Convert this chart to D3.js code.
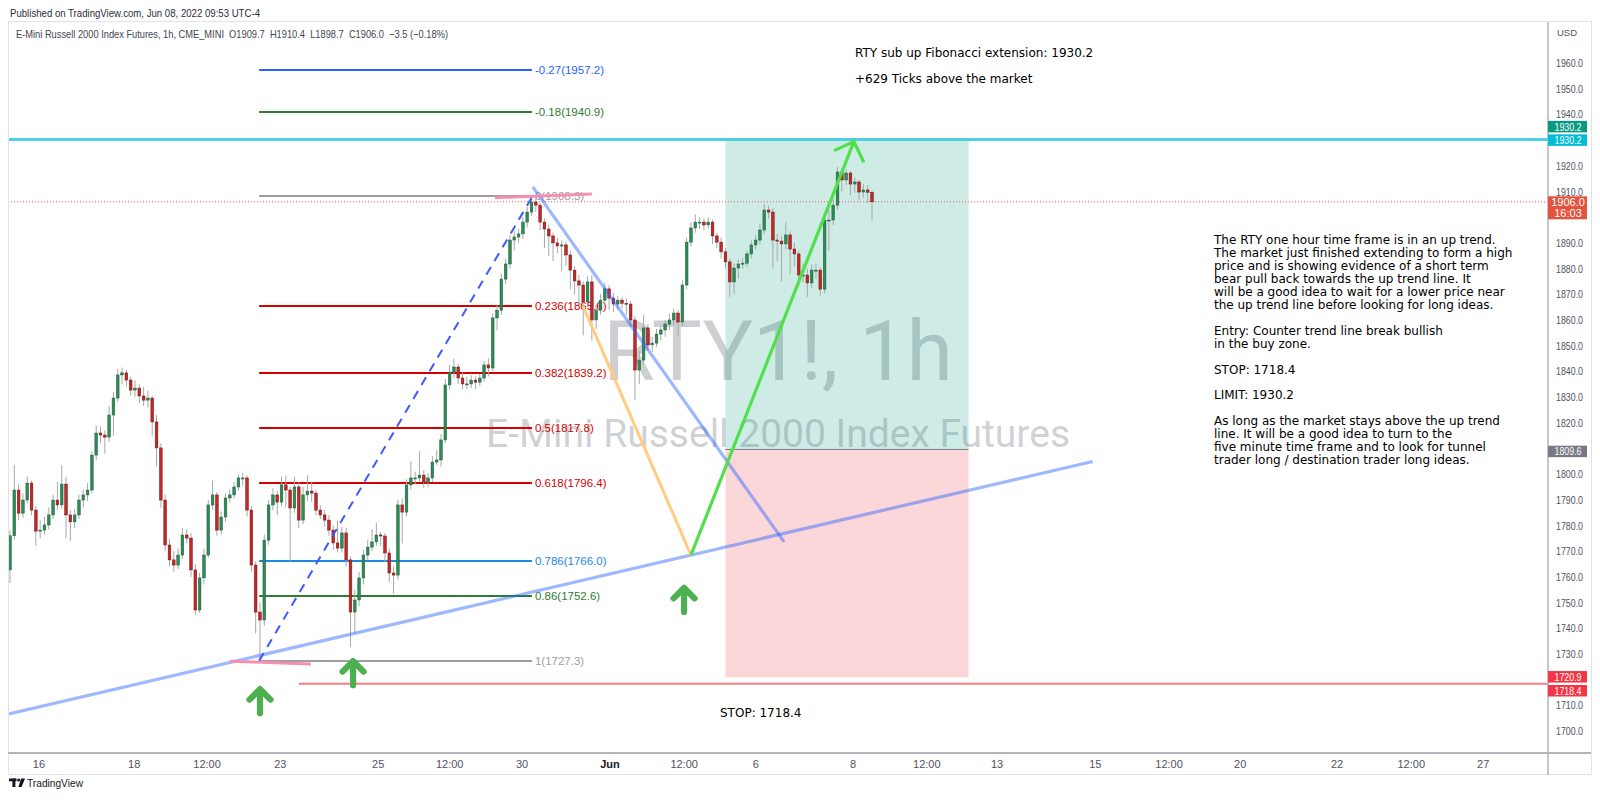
<!DOCTYPE html>
<html><head><meta charset="utf-8">
<script src="https://cdn.jsdelivr.net/npm/d3@7"></script>
<style>body{margin:0;background:#fff;}svg{display:block;}</style>
</head><body>
<svg id="c" width="1600" height="804"></svg>
<script>
// ---------------- DATA ----------------
const opens = [
1762.7,1776.0,1793.8,1784.8,1789.9,1796.5,1786.0,1777.8,1778.2,1780.2,
1784.1,1789.9,1788.0,1796.1,1784.1,1781.4,1784.1,1789.9,1791.9,1793.8,
1807.4,1816.0,1815.2,1814.4,1823.0,1829.6,1838.6,1839.4,1836.6,1832.7,
1833.5,1830.4,1828.8,1829.6,1820.3,1810.2,1789.9,1772.4,1766.6,1764.6,
1768.5,1776.3,1775.1,1762.7,1747.1,1759.6,1768.5,1788.0,1791.9,1778.2,
1783.3,1790.7,1791.9,1795.0,1798.5,1798.5,1786.0,1764.6,1746.3,1743.2,
1774.3,1788.0,1791.9,1789.1,1795.8,1793.8,1786.8,1795.0,1782.1,1791.9,
1793.4,1792.6,1786.0,1784.1,1782.1,1778.2,1773.2,1771.2,1777.1,1766.6,
1746.3,1751.0,1759.6,1768.5,1771.6,1773.6,1776.3,1775.9,1769.3,1761.5,
1760.7,1788.0,1785.2,1795.8,1798.5,1798.5,1799.6,1796.9,1798.5,1804.7,
1805.5,1813.3,1834.7,1839.7,1841.7,1837.4,1835.1,1835.1,1836.6,1835.8,
1837.4,1842.5,1841.3,1860.8,1863.8,1875.9,1881.8,1891.1,1892.3,1893.5,
1898.1,1902.0,1905.9,1904.7,1898.1,1895.4,1892.7,1890.0,1888.8,1889.2,
1885.3,1879.4,1875.2,1873.6,1867.0,1874.8,1860.0,1863.8,1867.7,1872.1,
1868.5,1866.2,1867.7,1866.5,1866.2,1860.0,1840.5,1844.4,1856.9,1850.3,
1851.0,1854.5,1856.1,1858.4,1860.0,1862.7,1859.2,1873.6,1890.3,1895.8,
1898.1,1898.1,1897.0,1898.1,1892.7,1890.3,1886.5,1882.6,1874.8,1880.2,
1881.8,1882.1,1885.7,1889.2,1891.1,1895.0,1902.8,1902.0,1891.1,1890.7,
1889.6,1893.1,1887.6,1885.7,1877.5,1877.5,1874.4,1879.4,1879.4,1872.0,
1898.9,1898.9,1904.7,1917.6,1914.5,1917.2,1912.9,1913.7,1909.8,1910.6,
1909.7];
const highs = [
1778.0,1803.5,1796.0,1792.5,1799.0,1797.5,1787.5,1782.0,1783.5,1787.0,
1792.0,1797.0,1803.5,1799.0,1786.0,1786.5,1792.0,1794.0,1796.5,1809.0,
1819.0,1818.5,1817.0,1826.5,1832.0,1841.0,1841.5,1840.5,1838.0,1836.5,
1835.0,1834.0,1832.5,1830.5,1823.0,1812.0,1792.0,1775.0,1770.0,1771.0,
1779.0,1778.5,1777.0,1765.0,1761.5,1771.0,1790.0,1797.5,1793.0,1785.5,
1792.5,1794.0,1797.0,1800.0,1800.5,1799.5,1787.5,1766.0,1750.0,1776.5,
1790.0,1794.5,1793.5,1799.0,1799.5,1795.0,1799.0,1797.0,1795.0,1799.5,
1797.0,1794.0,1788.0,1786.0,1784.0,1780.0,1782.0,1779.5,1779.0,1768.0,
1755.0,1762.0,1770.5,1774.5,1778.5,1781.0,1777.5,1777.0,1771.0,1764.0,
1790.0,1790.5,1798.0,1805.0,1801.0,1809.0,1801.5,1800.5,1807.0,1809.5,
1815.5,1837.0,1842.5,1845.0,1843.0,1839.5,1838.0,1838.5,1838.0,1839.0,
1844.0,1845.0,1862.5,1866.0,1878.0,1884.0,1893.0,1894.5,1895.5,1900.0,
1904.0,1908.3,1907.5,1905.5,1899.5,1897.0,1894.0,1892.0,1891.0,1890.5,
1887.0,1881.0,1877.5,1875.0,1877.0,1877.5,1866.0,1870.0,1874.5,1873.5,
1870.5,1869.5,1869.0,1868.5,1867.5,1861.5,1848.0,1862.0,1858.5,1853.5,
1856.5,1858.0,1860.0,1862.5,1864.5,1864.0,1875.5,1892.0,1898.0,1901.0,
1900.0,1899.5,1900.0,1899.0,1894.0,1892.0,1888.0,1884.0,1882.0,1883.5,
1884.0,1887.0,1891.0,1893.0,1897.5,1905.0,1904.5,1903.5,1893.5,1892.5,
1898.0,1894.5,1890.0,1887.0,1882.0,1880.0,1881.5,1882.0,1880.5,1900.0,
1903.0,1907.0,1919.5,1919.0,1918.5,1918.0,1915.5,1914.5,1913.0,1912.5,
1910.4];
const lows = [
1757.6,1774.5,1782.0,1783.0,1788.5,1784.0,1772.0,1775.0,1776.5,1778.5,
1782.5,1786.0,1786.5,1775.0,1774.0,1779.0,1782.5,1787.0,1789.5,1792.5,
1805.5,1812.0,1808.0,1812.5,1815.0,1828.0,1835.0,1834.0,1830.5,1830.0,
1827.5,1826.5,1826.0,1815.0,1803.0,1787.0,1770.0,1764.0,1762.0,1763.0,
1767.0,1773.0,1760.0,1745.2,1746.0,1757.0,1767.5,1786.0,1776.0,1776.5,
1781.5,1789.0,1790.5,1793.5,1795.5,1783.5,1762.0,1738.0,1727.3,1741.0,
1772.5,1786.0,1784.0,1787.5,1787.0,1766.0,1785.0,1779.0,1780.5,1789.5,
1789.0,1784.0,1782.5,1779.5,1776.0,1770.5,1769.5,1769.5,1764.0,1732.7,
1738.0,1748.5,1757.0,1766.5,1770.0,1772.0,1772.0,1766.0,1758.0,1753.5,
1759.0,1773.0,1783.5,1794.0,1796.0,1797.0,1794.5,1795.0,1797.0,1803.5,
1803.0,1812.0,1833.0,1837.5,1835.0,1833.0,1833.0,1833.5,1833.0,1834.5,
1836.0,1838.0,1840.0,1856.0,1862.0,1874.0,1880.0,1887.0,1890.0,1891.5,
1896.0,1900.5,1902.0,1895.0,1888.0,1885.0,1883.0,1886.0,1879.0,1881.0,
1872.0,1870.0,1866.0,1854.0,1865.5,1852.0,1856.5,1862.0,1866.0,1864.0,
1863.0,1864.0,1864.5,1862.0,1857.5,1828.8,1835.0,1842.5,1848.0,1847.5,
1849.5,1852.0,1853.5,1856.0,1858.0,1854.0,1857.5,1872.0,1888.5,1894.0,
1895.5,1895.0,1895.5,1889.5,1888.0,1884.0,1880.0,1869.0,1870.0,1876.0,
1880.0,1880.5,1884.0,1887.5,1889.5,1893.5,1899.5,1880.0,1883.0,1875.0,
1887.5,1878.0,1881.0,1873.0,1874.5,1869.0,1872.5,1876.0,1869.5,1870.5,
1887.0,1897.0,1903.0,1910.0,1912.5,1908.5,1909.5,1906.5,1907.5,1905.5,
1898.7];
const closes = [
1776.0,1793.8,1784.8,1789.9,1796.5,1786.0,1777.8,1778.2,1780.2,1784.1,
1789.9,1788.0,1796.1,1784.1,1781.4,1784.1,1789.9,1791.9,1793.8,1807.4,
1816.0,1815.2,1814.4,1823.0,1829.6,1838.6,1839.4,1836.6,1832.7,1833.5,
1830.4,1828.8,1829.6,1820.3,1810.2,1789.9,1772.4,1766.6,1764.6,1768.5,
1776.3,1775.1,1762.7,1747.1,1759.6,1768.5,1788.0,1791.9,1778.2,1783.3,
1790.7,1791.9,1795.0,1798.5,1798.5,1786.0,1764.6,1746.3,1743.2,1774.3,
1788.0,1791.9,1789.1,1795.8,1793.8,1786.8,1795.0,1782.1,1791.9,1793.4,
1792.6,1786.0,1784.1,1782.1,1778.2,1773.2,1771.2,1777.1,1766.6,1746.3,
1751.0,1759.6,1768.5,1771.6,1773.6,1776.3,1775.9,1769.3,1761.5,1760.7,
1788.0,1785.2,1795.8,1798.5,1798.5,1799.6,1796.9,1798.5,1804.7,1805.5,
1813.3,1834.7,1839.7,1841.7,1837.4,1835.1,1835.1,1836.6,1835.8,1837.4,
1842.5,1841.3,1860.8,1863.8,1875.9,1881.8,1891.1,1892.3,1893.5,1898.1,
1902.0,1905.9,1904.7,1898.1,1895.4,1892.7,1890.0,1888.8,1889.2,1885.3,
1879.4,1875.2,1873.6,1867.0,1874.8,1860.0,1863.8,1867.7,1872.1,1868.5,
1866.2,1867.7,1866.5,1866.2,1860.0,1840.5,1844.4,1856.9,1850.3,1851.0,
1854.5,1856.1,1858.4,1860.0,1862.7,1859.2,1873.6,1890.3,1895.8,1898.1,
1898.1,1897.0,1898.1,1892.7,1890.3,1886.5,1882.6,1874.8,1880.2,1881.8,
1882.1,1885.7,1889.2,1891.1,1895.0,1902.8,1902.0,1891.1,1890.7,1889.6,
1893.1,1887.6,1885.7,1877.5,1877.5,1874.4,1879.4,1879.4,1872.0,1898.9,
1898.9,1904.7,1917.6,1914.5,1917.2,1912.9,1913.7,1909.8,1910.6,1909.7,
1906.0];

const timeTickLabels = ["16","18","12:00","23","25","12:00","30","Jun","12:00","6","8","12:00","13","15","12:00","20","22","12:00","27"];
const timeTickBars   = [6.6,28.7,45.6,62.6,85.3,101.9,118.7,139.1,156.3,172.9,195.5,212.6,228.9,251.7,268.8,285.3,307.8,325.0,341.7];
const priceTicks = [1700,1710,1730,1740,1750,1760,1770,1780,1790,1800,1820,1830,1840,1850,1860,1870,1880,1890,1910,1920,1940,1950,1960];

const fibRatios = [-0.27,-0.18,0,0.236,0.382,0.5,0.618,0.786,0.86,1];
const fibPrices = [1957.2,1940.9,1908.3,1865.6,1839.2,1817.8,1796.4,1766.0,1752.6,1727.3];
const fibBars = [57.8,121.1];

const upTrendBars = [-0.5,251.2],   upTrendPrices = [1706.6,1804.9];
const downTrendBars = [121.3,179.6], downTrendPrices = [1911.8,1773.6];
const pullbackBars = [132.9,158.0],  pullbackPrices = [1865.6,1768.5];
const projBars = [158.0,195.8],      projPrices = [1768.5,1929.4];
const projHeadBars = [191.2,195.8,198.1], projHeadPrices = [1925.9,1929.4,1921.4];
const highMarkBars = [112.5,135.0],  highMarkPrices = [1907.6,1909.0];
const lowMarkBars = [51.0,69.8],     lowMarkPrices = [1727.2,1726.1];
const targetPrice = 1930.2, entryPrice = 1809.6, boxStopPrice = 1720.9, stopPrice = 1718.4, lastPrice = 1906.0;
const boxBars = [166.0,222.4];
const stopLineStartBar = 67.05;
const arrowBars = [58.0,79.6,156.4], arrowPrices = [1716.3,1727.2,1755.7];

const headerLine1 = "Published on TradingView.com, Jun 08, 2022 09:53 UTC-4";
const headerLine2 = "E-Mini Russell 2000 Index Futures, 1h, CME_MINI\u00a0\u00a0O1909.7\u00a0\u00a0H1910.4\u00a0\u00a0L1898.7\u00a0\u00a0C1906.0\u00a0\u00a0\u22123.5 (\u22120.18%)";
const topNote = ["RTY sub up Fibonacci extension: 1930.2", "+629 Ticks above the market"];
const sideNote = [
"The RTY one hour time frame is in an up trend.",
"The market just finished extending to form a high",
"price and is showing evidence of a short term",
"bear pull back towards the up trend line. It",
"will be a good idea to wait for a lower price near",
"the up trend line before looking for long ideas.",
"",
"Entry: Counter trend line break bullish",
"in the buy zone.",
"",
"STOP: 1718.4",
"",
"LIMIT: 1930.2",
"",
"As long as the market stays above the up trend",
"line. It will be a good idea to turn to the",
"five minute time frame and to look for tunnel",
"trader long / destination trader long ideas."];
const bottomNote = "STOP: 1718.4";
const watermark = ["RTY1!, 1h","E-Mini Russell 2000 Index Futures"];

// ---------------- LAYOUT ----------------
const svg = d3.select('#c');
const L=8, R=1548, T=22, B=753, FR=1591, FB=775;
const x = d3.scaleLinear().domain([0,200]).range([10,872]);
const y = d3.scaleLinear().domain([1691.44,1975.98]).range([B,T]);
const narrow = "'Liberation Sans Narrow','Liberation Sans',Arial,sans-serif";
const verd = "'DejaVu Sans',Verdana,sans-serif";

// header
svg.append('text').attr('x',10).attr('y',17).attr('font-family',narrow).attr('font-size',11.5)
  .attr('fill','#2a2e39').attr('textLength',250).attr('lengthAdjust','spacingAndGlyphs').text(headerLine1);
svg.append('rect').attr('x',L+0.5).attr('y',T-0.5).attr('width',FR-L).attr('height',FB-T)
  .attr('fill','none').attr('stroke','#e0e3eb');

const defs = svg.append('defs');
defs.append('clipPath').attr('id','plot').append('rect').attr('x',L+1).attr('y',T).attr('width',R-L-1).attr('height',B-T);
const g = svg.append('g').attr('clip-path','url(#plot)');

// watermark
g.append('text').attr('x',(L+R)/2).attr('y',380).attr('text-anchor','middle')
  .attr('font-family',"Roboto,'Liberation Sans',sans-serif").attr('font-size',84)
  .attr('fill','#787b86').attr('fill-opacity',0.36).text(watermark[0]);
g.append('text').attr('x',(L+R)/2).attr('y',447).attr('text-anchor','middle')
  .attr('font-family',"Roboto,'Liberation Sans',sans-serif").attr('font-size',39)
  .attr('fill','#787b86').attr('fill-opacity',0.36).text(watermark[1]);

// position box
const bx0 = x(boxBars[0]), bx1 = x(boxBars[1]);
g.append('rect').attr('x',bx0).attr('y',y(targetPrice)).attr('width',bx1-bx0).attr('height',y(entryPrice)-y(targetPrice))
  .attr('fill','rgb(8,153,129)').attr('fill-opacity',0.2);
g.append('rect').attr('x',bx0).attr('y',y(entryPrice)).attr('width',bx1-bx0).attr('height',y(boxStopPrice)-y(entryPrice))
  .attr('fill','rgb(242,54,69)').attr('fill-opacity',0.2);
g.append('line').attr('x1',bx0).attr('x2',bx1).attr('y1',y(entryPrice)).attr('y2',y(entryPrice))
  .attr('stroke','#787b86').attr('stroke-width',1);

// fib levels
const fibColors = ['#2962ff','#2e7d32','#9e9e9e','#d50000','#d50000','#d50000','#d50000','#1e88e5','#2e7d32','#9e9e9e'];
const fg = g.append('g');
fibRatios.forEach((r,i)=>{
  const yy = Math.round(y(fibPrices[i]));
  fg.append('line').attr('x1',x(fibBars[0])).attr('x2',x(fibBars[1])).attr('y1',yy).attr('y2',yy)
    .attr('stroke',fibColors[i]).attr('stroke-width',2);
  fg.append('text').attr('x',x(fibBars[1])+3).attr('y',yy).attr('dy','0.35em')
    .attr('font-family',narrow).attr('font-size',11.5).attr('fill',fibColors[i])
    .text(String(r)+'('+fibPrices[i].toFixed(1)+')');
});

// last price dotted line
g.append('line').attr('x1',L).attr('x2',R).attr('y1',y(lastPrice)).attr('y2',y(lastPrice))
  .attr('stroke','#f7525f').attr('stroke-width',1).attr('stroke-dasharray','1,2');

// candles
const bw = (x(1)-x(0))*0.62;
const cg = g.append('g');
closes.forEach((c,i)=>{
  const o = opens[i], up = c>=o, cx = x(i);
  cg.append('line').attr('x1',cx).attr('x2',cx).attr('y1',y(highs[i])).attr('y2',y(lows[i]))
    .attr('stroke','#a8a8a8').attr('stroke-width',1);
  const top = y(Math.max(o,c)), bot = y(Math.min(o,c));
  cg.append('rect').attr('x',cx-bw/2).attr('y',top).attr('width',bw).attr('height',Math.max(1,bot-top))
    .attr('fill',up?'#2e8b57':'#c62828').attr('stroke',up?'#1b5e3a':'#6d0d0d').attr('stroke-width',0.5);
});

function seg(bars,prices,color,w,extra){
  const ln = g.append('line').attr('x1',x(bars[0])).attr('y1',y(prices[0])).attr('x2',x(bars[1])).attr('y2',y(prices[1]))
    .attr('stroke',color).attr('stroke-width',w).attr('stroke-linecap','butt');
  if(extra) extra(ln);
  return ln;
}
// horizontal rays
g.append('line').attr('x1',L).attr('x2',R).attr('y1',y(targetPrice)).attr('y2',y(targetPrice))
  .attr('stroke','#4dd0e1').attr('stroke-width',3);
g.append('line').attr('x1',x(stopLineStartBar)).attr('x2',R).attr('y1',y(stopPrice)).attr('y2',y(stopPrice))
  .attr('stroke','#f77c80').attr('stroke-width',2);

seg([fibBars[0],121.3],[fibPrices[9],fibPrices[2]],'#3d5afe',2,l=>l.attr('stroke-dasharray','9,7'));
seg(upTrendBars,upTrendPrices,'rgba(41,98,255,0.45)',3.2);
seg(downTrendBars,downTrendPrices,'rgba(41,98,255,0.45)',3.2);
seg(pullbackBars,pullbackPrices,'#ffcc80',3);
seg(projBars,projPrices,'#4fe04a',3.2);
g.append('path').attr('d',d3.line()(projHeadBars.map((b,i)=>[x(b),y(projHeadPrices[i])])))
  .attr('fill','none').attr('stroke','#4fe04a').attr('stroke-width',3.2).attr('stroke-linejoin','miter');
seg(highMarkBars,highMarkPrices,'#f48fb1',3);
seg(lowMarkBars,lowMarkPrices,'#f48fb1',3);

// arrows
arrowBars.forEach((b,i)=>{
  const ax = x(b), ay = y(arrowPrices[i]);
  g.append('path').attr('d',`M${ax},${ay+2} L${ax},${ay+24} M${ax-10.5},${ay+10.5} L${ax},${ay} L${ax+10.5},${ay+10.5}`)
    .attr('fill','none').attr('stroke','#4caf50').attr('stroke-width',6.2)
    .attr('stroke-linecap','round').attr('stroke-linejoin','round');
});

// notes
const tn = g.append('text').attr('font-family',verd).attr('font-size',12).attr('fill','#000');
topNote.forEach((t,i)=>tn.append('tspan').attr('x',855).attr('y',57+i*26).text(t));
const sn = g.append('text').attr('font-family',verd).attr('font-size',12).attr('fill','#000');
sideNote.forEach((t,i)=>{ if(t) sn.append('tspan').attr('x',1214).attr('y',244+i*12.95).text(t); });
g.append('text').attr('x',720).attr('y',717).attr('font-family',verd).attr('font-size',12).attr('fill','#000').text(bottomNote);

svg.append('text').attr('x',16).attr('y',38).attr('font-family',narrow).attr('font-size',11.5)
  .attr('fill','#434651').attr('textLength',432).attr('lengthAdjust','spacingAndGlyphs').text(headerLine2);

// ---------------- AXES ----------------
const yAxis = d3.axisRight(y).tickValues(priceTicks).tickSize(0).tickPadding(8).tickFormat(d3.format('.1f'));
const ya = svg.append('g').attr('transform',`translate(${R},0)`).call(yAxis);
ya.select('.domain').remove();
ya.selectAll('text').attr('font-family',narrow).attr('font-size',11).attr('fill','#50535e')
  .attr('textLength',27).attr('lengthAdjust','spacingAndGlyphs');

const xAxis = d3.axisBottom(x).tickValues(timeTickBars).tickSize(0).tickPadding(7)
  .tickFormat((d,i)=>timeTickLabels[i]);
const xa = svg.append('g').attr('transform',`translate(0,${B})`).call(xAxis);
xa.select('.domain').remove();
xa.selectAll('text').attr('font-family',narrow).attr('font-size',11)
  .attr('font-weight',(d,i)=>timeTickLabels[i]==='Jun'?'bold':null)
  .attr('fill',(d,i)=>timeTickLabels[i]==='Jun'?'#131722':'#50535e');

svg.append('line').attr('x1',L).attr('x2',FR).attr('y1',B).attr('y2',B).attr('stroke','#b2b5be').attr('stroke-width',2);
svg.append('line').attr('x1',R).attr('x2',R).attr('y1',T).attr('y2',FB).attr('stroke','#b2b5be').attr('stroke-width',1.5);
svg.append('text').attr('x',1557).attr('y',36).attr('font-family',narrow).attr('font-size',9.5).attr('fill','#50535e').text('USD');

function axisLabel(val, color, dyOff, second){
  const cy = y(val)+dyOff;
  const h = second ? 23 : 11.5;
  const top = second ? y(val)-5.5 : cy-h/2;
  svg.append('rect').attr('x',R).attr('y',top).attr('width',39).attr('height',h).attr('fill',color);
  const t = svg.append('text').attr('font-family',narrow).attr('font-size',11).attr('fill','#fff').attr('text-anchor','middle');
  if(second){
    t.append('tspan').attr('x',R+20).attr('y',top+9.5).text(val.toFixed(1));
    t.append('tspan').attr('x',R+20).attr('y',top+20.5).text(second);
  } else {
    t.attr('x',R+20).attr('y',cy).attr('dy','0.36em').attr('textLength',27).attr('lengthAdjust','spacingAndGlyphs').text(val.toFixed(1));
  }
}
axisLabel(targetPrice,'#089981',-13);
axisLabel(targetPrice,'#00bcd4',0.5);
axisLabel(lastPrice,'#e4533d',0,'16:03');
axisLabel(entryPrice,'#787b86',2);
axisLabel(boxStopPrice,'#f23645',-0.5);
axisLabel(stopPrice,'#f23645',7);

const lg = svg.append('g').attr('fill','#131722');
lg.append('rect').attr('x',9).attr('y',778.5).attr('width',7.5).attr('height',2.8);
lg.append('rect').attr('x',12.4).attr('y',778.5).attr('width',3).attr('height',8.5);
lg.append('circle').attr('cx',18.6).attr('cy',780).attr('r',1.5);
lg.append('path').attr('d','M21,778.5 L25,778.5 L21.6,787 L18.4,787 Z');
svg.append('text').attr('x',27).attr('y',787).attr('font-family',narrow).attr('font-size',11.5).attr('fill','#131722')
  .attr('textLength',56).attr('lengthAdjust','spacingAndGlyphs').text('TradingView');
</script>
</body></html>
